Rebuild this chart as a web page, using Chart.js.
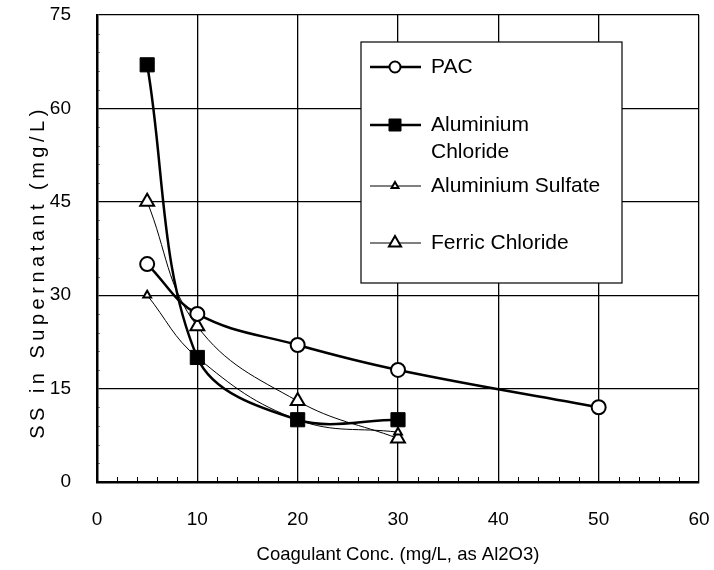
<!DOCTYPE html>
<html>
<head>
    <title>SS vs Coagulant</title>
    <script src="https://cdn.jsdelivr.net/npm/chart.js@4.4.1/dist/chart.umd.min.js"></script>
    <style>
        body { margin: 0; background: #fff; }
        #wrap { width: 714px; height: 570px; }
    </style>
</head>
<body>
    <div id="wrap"><canvas id="myChart"></canvas></div>
    <script>
        // data
        var pacX = [5, 10, 20, 30, 50];
        var pacY = [35, 27, 22, 18, 12];
        var alClX = [5, 10, 20, 30];
        var alClY = [67, 20, 10, 10];
        var alSulX = [5, 10, 20, 30];
        var alSulY = [30, 20, 10, 8];
        var ferX = [5, 10, 20, 30];
        var ferY = [45, 25, 13, 7];

        var xTicks = [0, 10, 20, 30, 40, 50, 60];
        var yTicks = [0, 15, 30, 45, 60, 75];
        var xMinor = [2, 4, 6, 8, 12, 14, 16, 18, 22, 24, 26, 28, 32, 34, 36, 38, 42, 44, 46, 48, 52, 54, 56, 58];
        var yMinor = [3, 6, 9, 12, 18, 21, 24, 27, 33, 36, 39, 42, 48, 51, 54, 57, 63, 66, 69, 72];
        var yTitle = 'SS in Supernatant (mg/L)';

        function pts(xs, ys) {
            var out = [];
            for (var i = 0; i < xs.length; i++) out.push({ x: xs[i], y: ys[i] });
            return out;
        }

        var FONT = "'Liberation Sans', Arial, sans-serif";

        // minor ticks pointing inward + spaced-out y title
        var extras = {
            id: 'extras',
            afterDraw: function (chart) {
                var ctx = chart.ctx, a = chart.chartArea;
                var xs = chart.scales.x, ys = chart.scales.y;
                ctx.save();
                ctx.strokeStyle = '#000';
                ctx.lineWidth = 1;
                xMinor.forEach(function (v) {
                    var px = Math.round(xs.getPixelForValue(v)) + 0.5;
                    ctx.beginPath(); ctx.moveTo(px, a.bottom); ctx.lineTo(px, a.bottom - 5); ctx.stroke();
                });
                ctx.globalAlpha = 0.5;
                yMinor.forEach(function (v) {
                    var py = Math.round(ys.getPixelForValue(v)) + 0.5;
                    ctx.beginPath(); ctx.moveTo(a.left, py); ctx.lineTo(a.left + 3, py); ctx.stroke();
                });
                ctx.globalAlpha = 1;
                ctx.translate(38, 272);
                ctx.rotate(-Math.PI / 2);
                ctx.font = '20px ' + FONT;
                ctx.letterSpacing = '4.5px';
                ctx.fillStyle = '#000';
                ctx.textAlign = 'center';
                ctx.textBaseline = 'middle';
                ctx.fillText(yTitle, 0, 0);
                ctx.restore();
            }
        };

        // boxed legend inside the plot
        var boxLegend = {
            id: 'boxLegend',
            afterDatasetsDraw: function (chart) {
                var ctx = chart.ctx;
                var bx = 361, by = 42, bw = 261, bh = 241;
                var rows = [67, 125, 186, 243];
                var mk = [5.5, 8.5, 4, 7];
                ctx.save();
                ctx.fillStyle = '#fff';
                ctx.fillRect(bx, by, bw, bh);
                ctx.strokeStyle = '#000';
                ctx.lineWidth = 1.2;
                ctx.strokeRect(bx, by, bw, bh);
                chart.data.datasets.forEach(function (ds, i) {
                    var y = rows[i];
                    ctx.strokeStyle = '#000';
                    ctx.lineWidth = ds.borderWidth;
                    ctx.beginPath(); ctx.moveTo(370, y); ctx.lineTo(421, y); ctx.stroke();
                    ctx.fillStyle = ds.pointBackgroundColor;
                    ctx.strokeStyle = '#000';
                    ctx.lineWidth = ds.pointBorderWidth;
                    Chart.helpers.drawPoint(ctx, {
                        pointStyle: ds.pointStyle,
                        radius: mk[i],
                        rotation: 0,
                        borderWidth: ds.pointBorderWidth
                    }, 395, y);
                    ctx.fillStyle = '#000';
                    ctx.font = '21px ' + FONT;
                    ctx.textBaseline = 'middle';
                    ctx.textAlign = 'left';
                    var lines = ds.label.split('\n');
                    lines.forEach(function (t, k) {
                        ctx.fillText(t, 431, y + k * 27);
                    });
                });
                ctx.restore();
            }
        };

        var ctx = document.getElementById('myChart').getContext('2d');
        var chart = new Chart(ctx, {
            type: 'line',
            data: {
                datasets: [{
                    label: 'PAC',
                    data: pts(pacX, pacY),
                    borderColor: '#000',
                    borderWidth: 2.5,
                    pointStyle: 'circle',
                    pointRadius: 7,
                    pointBorderWidth: 2,
                    pointBackgroundColor: '#fff',
                    pointBorderColor: '#000',
                    tension: 0.4
                }, {
                    label: 'Aluminium\nChloride',
                    data: pts(alClX, alClY),
                    borderColor: '#000',
                    borderWidth: 2.5,
                    pointStyle: 'rect',
                    pointRadius: 10,
                    pointBorderWidth: 1,
                    pointBackgroundColor: '#000',
                    pointBorderColor: '#000',
                    tension: 0.35
                }, {
                    label: 'Aluminium Sulfate',
                    data: pts(alSulX, alSulY),
                    borderColor: '#000',
                    borderWidth: 1,
                    pointStyle: 'triangle',
                    pointRadius: 4.5,
                    pointBorderWidth: 2,
                    pointBackgroundColor: '#fff',
                    pointBorderColor: '#000',
                    tension: 0.4
                }, {
                    label: 'Ferric Chloride',
                    data: pts(ferX, ferY),
                    borderColor: '#000',
                    borderWidth: 1,
                    pointStyle: 'triangle',
                    pointRadius: 8,
                    pointBorderWidth: 2,
                    pointBackgroundColor: '#fff',
                    pointBorderColor: '#000',
                    tension: 0.4
                }]
            },
            options: {
                responsive: true,
                maintainAspectRatio: false,
                animation: false,
                layout: { padding: { top: 15, right: 15, left: 0, bottom: 0 } },
                plugins: {
                    legend: { display: false },
                    tooltip: { enabled: false }
                },
                scales: {
                    x: {
                        type: 'linear',
                        min: 0, max: 60,
                        afterBuildTicks: function (s) { s.ticks = xTicks.map(function (v) { return { value: v }; }); },
                        afterFit: function (s) { s.height = 88; s.paddingLeft = 0; s.paddingRight = 0; },
                        grid: { color: '#000', lineWidth: 1.3, drawTicks: false },
                        border: { color: '#000', width: 2.5 },
                        ticks: { color: '#000', padding: 26, font: { family: FONT, size: 19 } },
                        title: {
                            display: true,
                            text: 'Coagulant Conc. (mg/L, as Al2O3)',
                            color: '#000',
                            font: { family: FONT, size: 18.5 },
                            padding: { top: 6 }
                        }
                    },
                    y: {
                        min: 0, max: 75,
                        afterBuildTicks: function (s) { s.ticks = yTicks.map(function (v) { return { value: v }; }); },
                        afterFit: function (s) { s.width = 97; s.paddingTop = 0; s.paddingBottom = 0; },
                        grid: { color: '#000', lineWidth: 1.3, drawTicks: false },
                        border: { color: '#000', width: 2.5 },
                        ticks: { color: '#000', padding: 26, font: { family: FONT, size: 19 } },
                        title: { display: false }
                    }
                }
            },
            plugins: [extras, boxLegend]
        });
    </script>
</body>
</html>
